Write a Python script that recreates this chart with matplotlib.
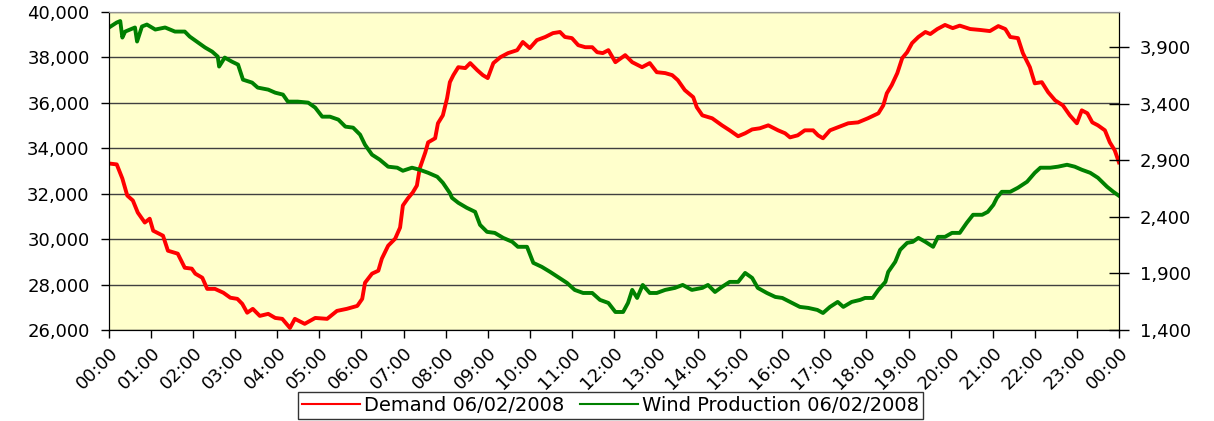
import matplotlib
matplotlib.use("Agg")
import matplotlib.pyplot as plt
from matplotlib.ticker import FuncFormatter

plt.rcParams['font.family'] = ['DejaVu Sans']

# minutes after midnight, demand in MW (left axis)
demand_min = [0, 11, 19, 26, 34, 41, 51, 58, 63, 77, 84, 98, 108, 118, 123, 133,
              140, 151, 163, 173, 183, 190, 197, 205, 215, 227, 237, 247, 258, 265,
              279, 294, 311, 325, 339, 354, 361, 365, 375, 384, 389, 398, 408, 415,
              419, 426, 433, 439, 443, 451, 455, 465, 469, 476, 482, 486, 491, 498,
              508, 515, 525, 533, 540, 548, 558, 569, 582, 590, 600, 610, 622, 633,
              643, 650, 660, 669, 679, 689, 696, 704, 712, 722, 736, 746, 760, 771,
              781, 793, 803, 811, 821, 833, 838, 846, 860, 874, 885, 897, 907, 917,
              928, 940, 954, 964, 971, 982, 992, 1004, 1011, 1018, 1028, 1039, 1054,
              1068, 1082, 1097, 1104, 1109, 1116, 1124, 1131, 1138, 1145, 1154, 1164,
              1171, 1181, 1192, 1203, 1213, 1228, 1242, 1256, 1268, 1278, 1285, 1296,
              1303, 1313, 1320, 1330, 1339, 1349, 1360, 1370, 1380, 1387, 1395, 1402,
              1410, 1420, 1427, 1434, 1440]
demand = [33330, 33290, 32670, 31920, 31700, 31170, 30730, 30900, 30370, 30150,
          29490, 29360, 28740, 28700, 28480, 28300, 27810, 27810, 27640, 27420,
          27370, 27150, 26760, 26930, 26620, 26710, 26530, 26490, 26090, 26490,
          26270, 26530, 26490, 26840, 26930, 27060, 27370, 28080, 28480, 28610,
          29140, 29710, 30020, 30510, 31480, 31790, 32050, 32360, 33110, 33820,
          34260, 34440, 35100, 35450, 36200, 36910, 37220, 37570, 37530, 37750,
          37440, 37220, 37090, 37750, 38010, 38190, 38320, 38680, 38410, 38760,
          38900, 39070, 39120, 38900, 38850, 38540, 38450, 38450, 38230, 38190,
          38320, 37790, 38100, 37790, 37570, 37750, 37350, 37310, 37220, 37000,
          36560, 36250, 35810, 35450, 35320, 35010, 34790, 34530, 34660, 34830,
          34880, 35010, 34790, 34660, 34480, 34570, 34790, 34790, 34570, 34440,
          34790, 34920, 35100, 35140, 35320, 35540, 35890, 36420, 36780, 37310,
          37970, 38230, 38630, 38900, 39120, 39030, 39250, 39430, 39290, 39400,
          39250, 39210, 39160, 39380, 39250, 38900, 38850, 38190, 37570, 36860,
          36910, 36470, 36110, 35890, 35450, 35100, 35670, 35540, 35140, 35010,
          34790, 34260, 33910, 33380]

# minutes after midnight, wind production in MW (right axis)
wind_min = [0, 11, 16, 19, 23, 37, 40, 47, 54, 66, 80, 94, 108, 115, 125, 137, 147,
            155, 157, 165, 175, 184, 191, 204, 212, 227, 237, 248, 255, 269, 284,
            294, 304, 315, 327, 337, 348, 358, 365, 375, 386, 398, 411, 419, 432,
            443, 455, 468, 476, 486, 489, 498, 510, 522, 529, 539, 550, 562, 575,
            583, 596, 605, 617, 629, 640, 653, 664, 676, 689, 700, 712, 722, 733,
            740, 746, 753, 761, 771, 781, 793, 807, 818, 831, 846, 854, 864, 874,
            885, 897, 907, 917, 925, 938, 950, 960, 974, 985, 997, 1010, 1018, 1028,
            1039, 1047, 1059, 1071, 1078, 1089, 1097, 1107, 1111, 1121, 1128, 1138,
            1146, 1154, 1164, 1175, 1182, 1192, 1202, 1213, 1223, 1232, 1245, 1253,
            1261, 1266, 1273, 1285, 1296, 1309, 1320, 1328, 1342, 1353, 1366, 1377,
            1387, 1399, 1410, 1423, 1432, 1440]
wind = [4073, 4117, 4130, 3984, 4037, 4073, 3949, 4082, 4099, 4055, 4073, 4037,
        4037, 3993, 3949, 3896, 3860, 3816, 3728, 3807, 3772, 3745, 3612, 3586,
        3542, 3524, 3497, 3480, 3418, 3418, 3409, 3365, 3285, 3285, 3259, 3197,
        3188, 3126, 3037, 2949, 2905, 2843, 2834, 2807, 2834, 2816, 2789, 2754,
        2701, 2610, 2568, 2524, 2480, 2444, 2329, 2267, 2258, 2214, 2179, 2135,
        2135, 1993, 1958, 1913, 1869, 1816, 1754, 1727, 1727, 1666, 1639, 1559,
        1559, 1639, 1754, 1683, 1798, 1727, 1727, 1754, 1772, 1798, 1754, 1772,
        1798, 1736, 1781, 1825, 1825, 1904, 1860, 1772, 1727, 1692, 1683, 1639,
        1604, 1595, 1577, 1550, 1604, 1648, 1604, 1648, 1666, 1683, 1683, 1754,
        1825, 1913, 2002, 2108, 2170, 2179, 2214, 2179, 2135, 2223, 2223, 2258,
        2258, 2347, 2418, 2418, 2444, 2506, 2568, 2621, 2621, 2657, 2710, 2789,
        2834, 2834, 2843, 2860, 2843, 2816, 2789, 2745, 2666, 2621, 2586]

hour_labels = ['%02d:00' % (h % 24) for h in range(25)]
left_ticks = list(range(26000, 40001, 2000))
right_ticks = list(range(1400, 3901, 500))

fig = plt.figure(figsize=(12.14, 4.21), dpi=100)
ax = fig.add_axes([0.0898, 0.2162, 0.8319, 0.7553])
ax.set_facecolor('#FFFFCC')
ax2 = ax.twinx()

l1, = ax.plot(demand_min, demand, color='#FF0000', lw=2.8,
              label='Demand 06/02/2008')
l2, = ax2.plot(wind_min, wind, color='#008000', lw=2.8,
               label='Wind Production 06/02/2008')

comma = FuncFormatter(lambda v, p: '{:,.0f}'.format(v))

ax.set_xlim(0, 1440)
ax.set_xticks([60 * h for h in range(25)])
ax.set_xticklabels(hour_labels, rotation=45, ha='right', rotation_mode='anchor')
ax.set_ylim(26000, 40000)
ax.set_yticks(left_ticks)
ax.yaxis.set_major_formatter(comma)
ax.grid(axis='y', color='#404040', lw=1)
ax.set_axisbelow(True)

ax2.set_ylim(1400, 4210)
ax2.set_yticks(right_ticks)
ax2.yaxis.set_major_formatter(comma)

for a in (ax, ax2):
    a.tick_params(labelsize=13, length=6, width=1, colors='black')
    a.spines['top'].set_color('#909090')
ax2.tick_params(axis='y', direction='inout', length=14, pad=8)
ax.tick_params(axis='y', pad=8)
ax.tick_params(axis='x', pad=4)

fig.legend([l1, l2], [l1.get_label(), l2.get_label()], loc='center',
           bbox_to_anchor=(0.503, 0.037), ncol=2, fontsize=14, frameon=True,
           fancybox=False, edgecolor='black', handlelength=3.0,
           handletextpad=0.2, columnspacing=0.8, borderpad=0.2)
for line in fig.legends[0].get_lines():
    line.set_linewidth(1.5)

fig.savefig('out.png', dpi=100)
